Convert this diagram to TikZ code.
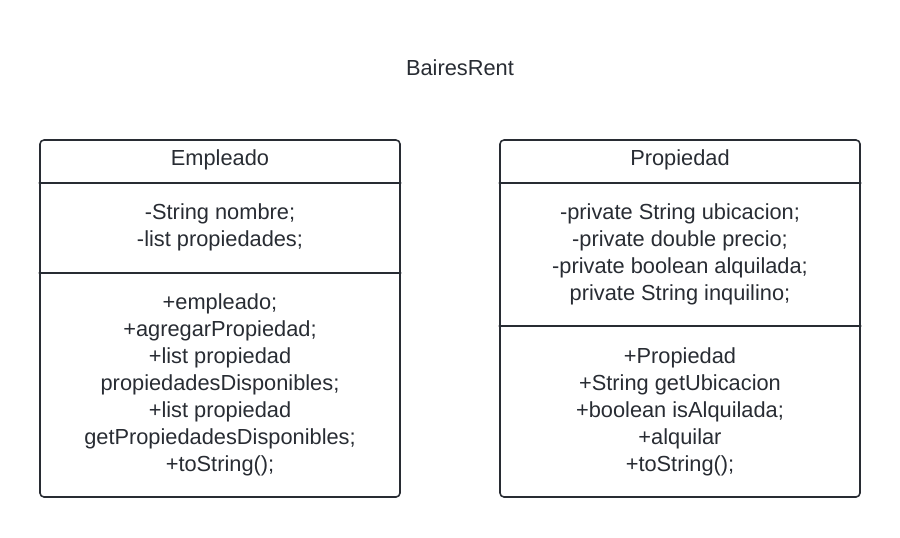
\documentclass[tikz,border=0pt]{standalone}
\usepackage{fontspec}
\setmainfont{Liberation Sans}
\definecolor{ink}{HTML}{282C33}
\begin{document}
\begin{tikzpicture}[x=1pt,y=-1pt,line join=round,line cap=round]
			\tikzset{every node/.style={text=ink,font=\fontsize{21.8}{27}\selectfont,align=center,inner sep=0pt}}
			\tikzset{classbox/.style={draw=ink,line width=1.6pt,rounded corners=4pt,minimum width=360pt,minimum height=357pt}}
			\useasboundingbox (0,0) rectangle (900,538);
			\node (titulo) at (460,68) {BairesRent};
			% clase Empleado
			\node[classbox] (empleado) at (220,318.5) {};
			\node (empNombre) at (220,160) {Empleado};
			\draw[ink,line width=1.6pt] (empleado.west |- 0,183)--(empleado.east |- 0,183);
			\node (empAttr) at (220,227) {-String nombre;\\-list propiedades;};
			\draw[ink,line width=1.6pt] (empleado.west |- 0,273)--(empleado.east |- 0,273);
			\node (empMet) at (220,384.5) {+empleado;\\+agregarPropiedad;\\+list propiedad\\propiedadesDisponibles;\\+list propiedad\\getPropiedadesDisponibles;\\+toString();};
			% clase Propiedad
			\node[classbox] (propiedad) at (680,318.5) {};
			\node (propNombre) at (680,160) {Propiedad};
			\draw[ink,line width=1.6pt] (propiedad.west |- 0,183)--(propiedad.east |- 0,183);
			\node (propAttr) at (680,254) {-private String ubicacion;\\-private double precio;\\-private boolean alquilada;\\private String inquilino;};
			\draw[ink,line width=1.6pt] (propiedad.west |- 0,326)--(propiedad.east |- 0,326);
			\node (propMet) at (680,411.5) {+Propiedad\\+String getUbicacion\\+boolean isAlquilada;\\+alquilar\\+toString();};
		\end{tikzpicture}
\end{document}
